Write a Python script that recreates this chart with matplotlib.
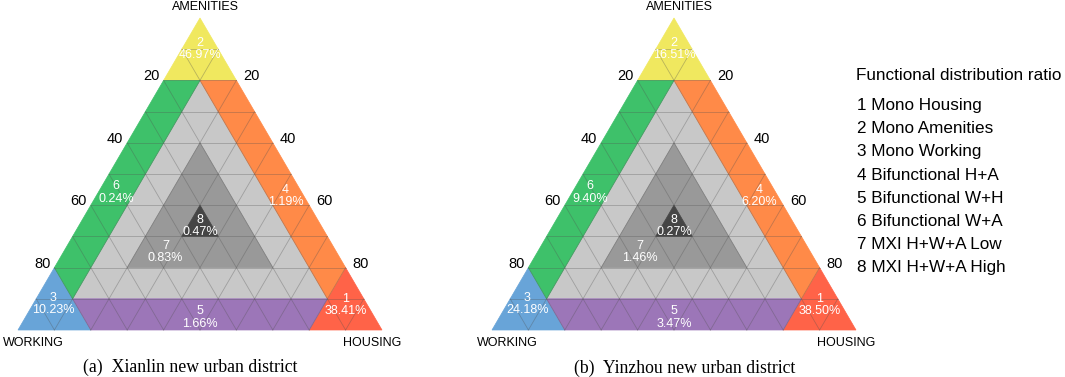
import matplotlib
matplotlib.use("Agg")
import matplotlib.pyplot as plt
from matplotlib.patches import Polygon

plt.rcParams['font.family'] = ['Liberation Sans', 'DejaVu Sans']

# ---------------- data ----------------
region_ids = [1, 2, 3, 4, 5, 6, 7, 8]
region_names = ["Mono Housing", "Mono Amenities", "Mono Working",
                "Bifunctional H+A", "Bifunctional W+H", "Bifunctional W+A",
                "MXI H+W+A Low", "MXI H+W+A High"]
xianlin_pct = [38.41, 46.97, 10.23, 1.19, 1.66, 0.24, 0.83, 0.47]
yinzhou_pct = [38.50, 16.51, 24.18, 6.20, 3.47, 9.40, 1.46, 0.27]
panel_titles = ["(a)  Xianlin new urban district", "(b)  Yinzhou new urban district"]
corner_labels = ["HOUSING", "WORKING", "AMENITIES"]
tick_values = [20, 40, 60, 80]
legend_title = "Functional distribution ratio"

region_colors = ["#FF6348", "#F0E85F", "#68A4D8", "#FF8A48",
                 "#9C76B8", "#3EC16A", "#999999", "#454545"]

# region polygons in ternary fractions (H, W, A)
regions = {
    1: [(1, 0, 0), (0.8, 0.2, 0), (0.8, 0, 0.2)],
    2: [(0, 0, 1), (0.2, 0, 0.8), (0, 0.2, 0.8)],
    3: [(0, 1, 0), (0.2, 0.8, 0), (0, 0.8, 0.2)],
    4: [(0.8, 0, 0.2), (0.2, 0, 0.8), (0.1, 0.1, 0.8), (0.8, 0.1, 0.1)],
    5: [(0.2, 0.8, 0), (0.8, 0.2, 0), (0.8, 0.1, 0.1), (0.1, 0.8, 0.1)],
    6: [(0, 0.8, 0.2), (0, 0.2, 0.8), (0.1, 0.1, 0.8), (0.1, 0.8, 0.1)],
    7: [(0.6, 0.2, 0.2), (0.2, 0.6, 0.2), (0.2, 0.2, 0.6)],
    8: [(0.4, 0.3, 0.3), (0.3, 0.4, 0.3), (0.3, 0.3, 0.4)],
}
inner = [(0.8, 0.1, 0.1), (0.1, 0.8, 0.1), (0.1, 0.1, 0.8)]
label_pos = {
    1: (0.86, 0.06, 0.08), 2: (0.05, 0.05, 0.90), 3: (0.055, 0.862, 0.083),
    4: (0.52, 0.05, 0.43), 5: (0.48, 0.48, 0.04), 6: (0.05, 0.51, 0.44),
    7: (0.28, 0.47, 0.25), 8: (0.333, 0.333, 0.333),
}

# ---------------- layout ----------------
W_PX, H_PX = 1065, 377
SIDE = 364.0          # px per unit
HT = 312.0 / SIDE     # triangle height (data units)
BASE_Y = 330.0        # px from top
PANEL_X = [0, 474]
PANEL_W = 470
BL_X = 18.0

def tern(h, w, a):
    return h + a * 0.5, a * HT

fig = plt.figure(figsize=(W_PX / 100, H_PX / 100), dpi=100)

def panel(x0, pcts):
    ax = fig.add_axes([x0 / W_PX, 0, PANEL_W / W_PX, 1])
    ax.set_xlim((0 - BL_X) / SIDE, (PANEL_W - BL_X) / SIDE)
    ax.set_ylim((BASE_Y - H_PX) / SIDE, BASE_Y / SIDE)
    ax.axis('off')
    ax.add_patch(Polygon([tern(*p) for p in inner], closed=True,
                         facecolor="#C8C8C8", edgecolor="#C8C8C8", lw=0.5))
    for rid, col in zip(region_ids, region_colors):
        ax.add_patch(Polygon([tern(*p) for p in regions[rid]], closed=True,
                             facecolor=col, edgecolor=col, lw=0.5))
    for k in range(1, 10):
        f = k / 10
        for p, q in [((f, 1 - f, 0), (f, 0, 1 - f)),
                     ((1 - f, f, 0), (0, f, 1 - f)),
                     ((1 - f, 0, f), (0, 1 - f, f))]:
            x1, y1 = tern(*p)
            x2, y2 = tern(*q)
            ax.plot([x1, x2], [y1, y2], color="#505050", lw=0.6, alpha=0.35)
    for rid, val in zip(region_ids, pcts):
        x, y = tern(*label_pos[rid])
        ax.text(x, y, f"{rid}\n{val:.2f}%", color="white", fontsize=9,
                ha="center", va="center", linespacing=1.05)
    for v in tick_values:
        a = 1 - v / 100
        xl, yl = tern(0, v / 100, a)
        ax.annotate(str(v), (xl, yl), xytext=(-12, 4), textcoords="offset pixels",
                    ha="center", va="center", fontsize=10.5, color="black")
        xr, yr = tern(v / 100, 0, a)
        ax.annotate(str(v), (xr, yr), xytext=(15, 4), textcoords="offset pixels",
                    ha="center", va="center", fontsize=10.5, color="black")
    ax.annotate(corner_labels[2], tern(0, 0, 1), xytext=(5, 11), textcoords="offset pixels",
                ha="center", va="center", fontsize=9)
    ax.annotate(corner_labels[1], tern(0, 1, 0), xytext=(15, -13), textcoords="offset pixels",
                ha="center", va="center", fontsize=9)
    ax.annotate(corner_labels[0], tern(1, 0, 0), xytext=(-10, -13), textcoords="offset pixels",
                ha="center", va="center", fontsize=9)
    return ax

panel(PANEL_X[0], xianlin_pct)
panel(PANEL_X[1], yinzhou_pct)

fig.text(190 / W_PX, 1 - 367 / H_PX, panel_titles[0], family="Liberation Serif",
         fontsize=12.8, ha="center", va="center")
fig.text(685 / W_PX, 1 - 368 / H_PX, panel_titles[1], family="Liberation Serif",
         fontsize=12.8, ha="center", va="center")

fig.text(856 / W_PX, 1 - 75 / H_PX, legend_title, fontsize=12.3, ha="left", va="center")
for i, (rid, name) in enumerate(zip(region_ids, region_names)):
    fig.text(857 / W_PX, 1 - (105.5 + 23.2 * i) / H_PX, f"{rid} {name}",
             fontsize=12.3, ha="left", va="center")

fig.savefig("out.png", dpi=100)
